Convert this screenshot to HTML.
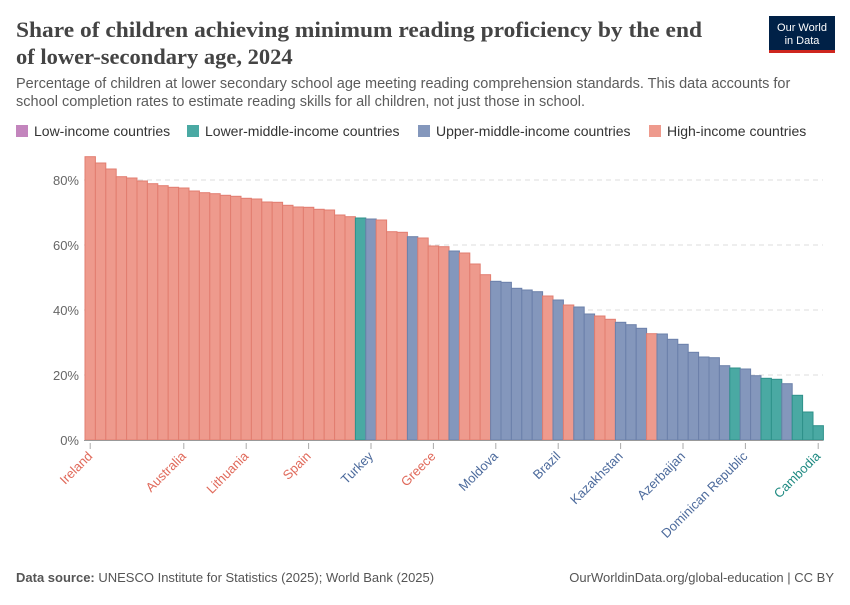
<!DOCTYPE html>
<html><head><meta charset="utf-8"><style>
body{margin:0;background:#fff;width:850px;height:600px;overflow:hidden;font-family:"Liberation Sans",sans-serif}
</style></head><body>
<svg id="s" width="850" height="600" xmlns="http://www.w3.org/2000/svg" font-family="Liberation Sans, sans-serif">
<text x="16" y="37" font-family="Liberation Serif, serif" font-size="22.5" font-weight="bold" fill="#444" textLength="686" lengthAdjust="spacingAndGlyphs">Share of children achieving minimum reading proficiency by the end</text>
<text x="16" y="64" font-family="Liberation Serif, serif" font-size="22.5" font-weight="bold" fill="#444">of lower-secondary age, 2024</text>
<rect x="769" y="16" width="66" height="36" fill="#002147"/>
<rect x="769" y="50" width="66" height="3" fill="#ce261e"/>
<text x="802" y="31" font-size="11" fill="#fff" text-anchor="middle">Our World</text>
<text x="802" y="44" font-size="11" fill="#fff" text-anchor="middle">in Data</text>
<text x="16" y="88" font-size="14.5" fill="#5b5b5b">Percentage of children at lower secondary school age meeting reading comprehension standards. This data accounts for</text>
<text x="16" y="106" font-size="14.5" fill="#5b5b5b">school completion rates to estimate reading skills for all children, not just those in school.</text>
<rect x="16" y="125" width="12" height="12" fill="#c385bd"/><text x="34" y="136" font-size="14" fill="#333">Low-income countries</text>
<rect x="187" y="125" width="12" height="12" fill="#4aa9a3"/><text x="205" y="136" font-size="14" fill="#333">Lower-middle-income countries</text>
<rect x="418" y="125" width="12" height="12" fill="#8497bc"/><text x="436" y="136" font-size="14" fill="#333">Upper-middle-income countries</text>
<rect x="649" y="125" width="12" height="12" fill="#ee9a8d"/><text x="667" y="136" font-size="14" fill="#333">High-income countries</text>
<g id="grid"></g><g id="bars"></g><g id="lab"></g>
<text x="16" y="582" font-size="13" fill="#555"><tspan font-weight="bold">Data source:</tspan> UNESCO Institute for Statistics (2025); World Bank (2025)</text>
<text x="834" y="582" font-size="13" fill="#555" text-anchor="end">OurWorldinData.org/global-education | CC BY</text>
</svg>
<script>
var tops=[156.7,163,169,176.7,178,181,183.7,185.7,187.3,188,191,192.7,193.7,195.3,196.3,198.3,199,202,202.3,205.3,207,207.3,209.3,210,215,216.7,218,219,220,231.7,232.3,236.7,238,246,246.7,251,253,264,274.7,281.3,282.3,288.3,290,291.7,296,300,305,307,314,316,319.3,322.3,324.7,328.3,333.7,334,339.3,344.3,352.3,357,357.7,365.7,368,369,375.7,378.3,379.3,383.7,395.3,412,425.7];
var cat={27:'t',28:'b',32:'b',36:'b',40:'b',41:'b',42:'b',43:'b',44:'b',46:'b',48:'b',49:'b',52:'b',53:'b',54:'b',56:'b',57:'b',58:'b',59:'b',60:'b',61:'b',62:'b',63:'t',64:'b',65:'b',66:'t',67:'t',68:'b',69:'t',70:'t',71:'t'};
var F={r:['#ee9a8d','#e27d70'],b:['#8497bc','#6b80aa'],t:['#4aa9a3','#2e918a']};
var ns='http://www.w3.org/2000/svg';
function el(p,t,a,txt){var e=document.createElementNS(ns,t);for(var k in a)e.setAttribute(k,a[k]);if(txt)e.textContent=txt;document.getElementById(p).appendChild(e);return e;}
[[440,'0%'],[375,'20%'],[310,'40%'],[245,'60%'],[180,'80%']].forEach(function(g){
 if(g[0]<440)el('grid','line',{x1:84,x2:823,y1:g[0],y2:g[0],stroke:'#ddd','stroke-dasharray':'5,4'});
 el('grid','text',{x:79,y:g[0]+5,'font-size':13,fill:'#666','text-anchor':'end'},g[1]);
});
var w=10.4;
tops.forEach(function(t,i){var c=F[cat[i+1]||'r'];el('bars','rect',{x:85+i*w,y:t,width:w,height:440-t,fill:c[0],stroke:c[1],'stroke-width':1});});
el('bars','line',{x1:84,x2:823,y1:440.5,y2:440.5,stroke:'#999'});
var L=[[1,'Ireland','r'],[10,'Australia','r'],[16,'Lithuania','r'],[22,'Spain','r'],[28,'Turkey','b'],[34,'Greece','r'],[40,'Moldova','b'],[46,'Brazil','b'],[52,'Kazakhstan','b'],[58,'Azerbaijan','b'],[64,'Dominican Republic','b'],[71,'Cambodia','t']];
var LC={r:'#e0695a',b:'#4c6a9c',t:'#1f8a82'};
L.forEach(function(l){var x=85+(l[0]-0.5)*w;
 el('lab','line',{x1:x,x2:x,y1:443,y2:449,stroke:'#aaa'});
 el('lab','text',{x:x+3,y:457,'font-size':13,fill:LC[l[2]],'text-anchor':'end',transform:'rotate(-45 '+(x+3)+' 457)'},l[1]);
});
</script>
</body></html>
